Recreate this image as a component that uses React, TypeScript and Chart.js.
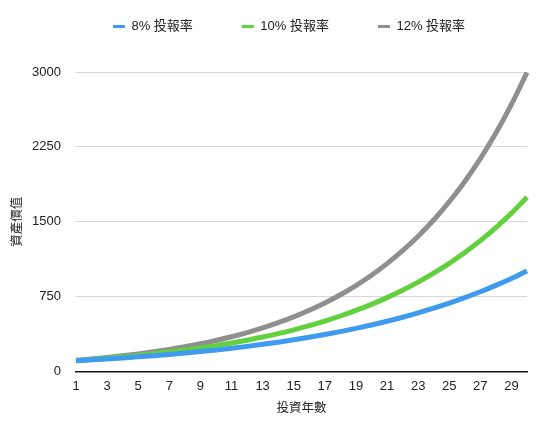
import React, { useEffect, useRef } from "react";
import { Chart, registerables } from "chart.js";

Chart.register(...registerables);

const years = ["1","2","3","4","5","6","7","8","9","10","11","12","13","14","15","16","17","18","19","20","21","22","23","24","25","26","27","28","29","30"];

const rate8 = [108.0,116.6,126.0,136.0,146.9,158.7,171.4,185.1,199.9,215.9,233.2,251.8,272.0,293.7,317.2,342.6,370.0,399.6,431.6,466.1,503.4,543.7,587.2,634.1,684.8,739.6,798.8,862.7,931.7,1006.3];
const rate10 = [110.0,121.0,133.1,146.4,161.1,177.2,194.9,214.4,235.8,259.4,285.3,313.8,345.2,379.7,417.7,459.5,505.4,556.0,611.6,672.7,740.0,814.0,895.4,985.0,1083.5,1191.8,1311.0,1442.1,1586.3,1744.9];
const rate12 = [112.0,125.4,140.5,157.4,176.2,197.4,221.1,247.6,277.3,310.6,347.9,389.6,436.3,488.7,547.4,613.1,686.6,769.0,861.3,964.6,1080.4,1210.0,1355.2,1517.9,1700.0,1904.0,2132.5,2388.4,2675.0,2996.0];

const seriesNames = ["8% 投報率", "10% 投報率", "12% 投報率"];
const seriesColors = ["#3e9bf0", "#62d13e", "#8f8f8f"];

const yTicks = [0, 750, 1500, 2250, 3000];
const xTitle = "投資年數";
const yTitle = "資產價值";

const FONT = "'Liberation Sans', 'Noto Sans CJK TC', sans-serif";

const legendShift = {
  id: "legendShift",
  afterLayout(chart: any) {
    const lg = chart.legend;
    if (!lg) return;
    lg.left = 31;
    lg.right = 547;
    lg.top = -29;
  },
};

export default function App() {
  const ref = useRef<HTMLCanvasElement | null>(null);
  useEffect(() => {
    if (!ref.current) return;
    Chart.defaults.font.family = FONT;
    const values = [rate8, rate10, rate12];
    const chart = new Chart(ref.current, {
      type: "line",
      data: {
        labels: years,
        datasets: values.map((v, i) => ({
          label: seriesNames[i],
          data: v,
          borderColor: seriesColors[i],
          backgroundColor: seriesColors[i],
          borderWidth: 5,
          pointRadius: 0,
          cubicInterpolationMode: "monotone" as const,
          fill: false,
        })),
      },
      options: {
        animation: false,
        responsive: false,
        layout: { padding: { left: 6, right: 20, top: 0, bottom: 0 } },
        plugins: {
          tooltip: { enabled: false },
          legend: {
            position: "top",
            labels: {
              boxWidth: 12,
              boxHeight: 3,
              padding: 49,
              color: "#222",
              font: { size: 13, family: FONT },
              generateLabels: (c: any) =>
                Chart.defaults.plugins.legend.labels
                  .generateLabels(c)
                  .map((l: any) => ({ ...l, lineWidth: 0 })),
            },
          },
        },
        scales: {
          x: {
            afterFit: (axis: any) => {
              axis.height = 50.5;
            },
            grid: { display: false, drawTicks: false },
            border: { display: true, color: "#111", width: 1.5 },
            ticks: {
              autoSkip: false,
              maxRotation: 0,
              padding: 7,
              color: "#222",
              font: { size: 13 },
              callback: (_v: any, idx: number) => (idx % 2 === 0 ? years[idx] : ""),
            },
            title: {
              display: true,
              text: xTitle,
              color: "#222",
              font: { size: 12.5 },
              padding: { top: 2, bottom: 6 },
            },
          },
          y: {
            min: yTicks[0],
            max: yTicks[yTicks.length - 1],
            afterFit: (axis: any) => {
              axis.width = 70;
            },
            afterBuildTicks: (axis: any) => {
              axis.ticks = yTicks.map((v) => ({ value: v }));
            },
            grid: { color: "#d6d6d6", drawTicks: false, lineWidth: 1 },
            border: { display: false },
            ticks: {
              padding: 15,
              color: "#222",
              font: { size: 13 },
              callback: (v: any) => String(v),
            },
            title: {
              display: true,
              text: yTitle,
              color: "#222",
              font: { size: 12.5 },
              padding: { top: 4, bottom: 4 },
            },
          },
        },
      },
      plugins: [legendShift],
    });
    return () => chart.destroy();
  }, []);
  return (
    <div style={{ position: "absolute", left: 0, top: 0, width: 547, height: 422, background: "#fff" }}>
      <canvas ref={ref} width={547} height={422} style={{ width: 547, height: 422, display: "block" }} />
    </div>
  );
}
